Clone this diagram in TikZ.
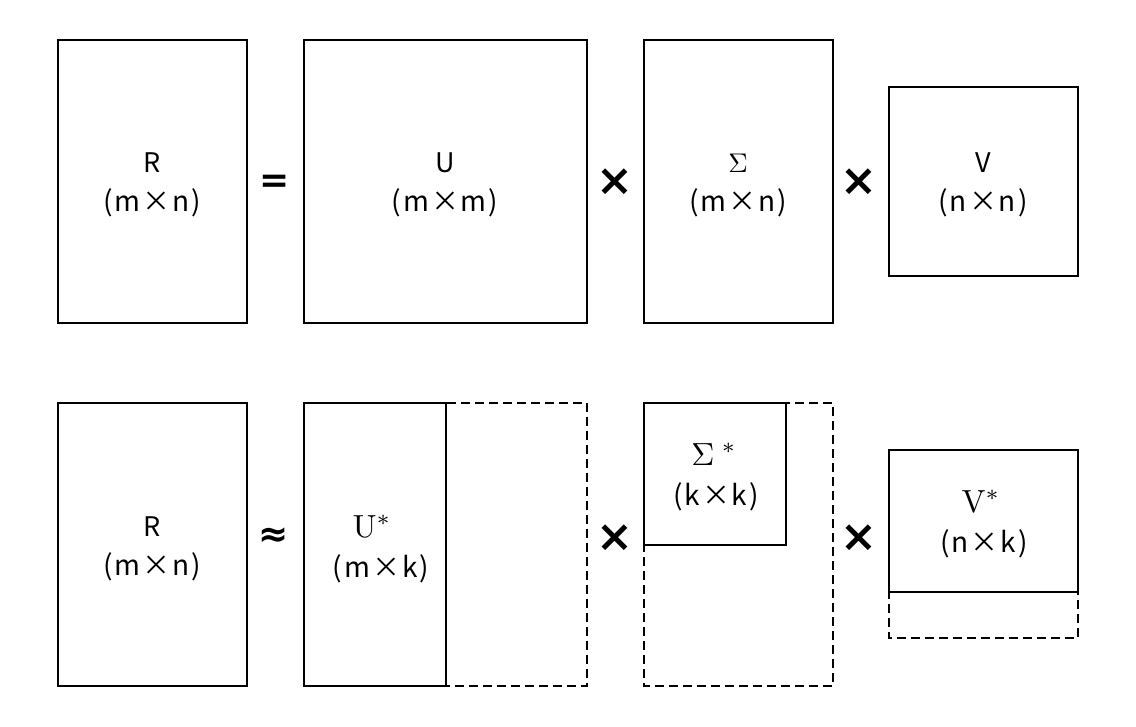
\documentclass[tikz,border=0pt]{standalone}
\usepackage{graphicx}
\usepackage{fontspec}
\newfontfamily\cjk[LetterSpace=7]{Noto Sans CJK SC}
\newfontfamily\opfont{DejaVu Sans}
\newcommand{\mbig}[1]{\scalebox{3.2}{$#1$}}
\begin{document}
\begin{tikzpicture}[x=1pt,y=-1pt,
  mat/.style={draw=black,line width=1.6pt,fill=none},
  dmat/.style={draw=black,line width=1.5pt,dash pattern=on 9pt off 5pt},
  nm/.style={anchor=base,inner sep=0pt,font=\cjk\fontsize{27}{27}\selectfont},
  mnm/.style={anchor=base,inner sep=0pt},
  dim/.style={anchor=base,inner sep=0pt,font=\cjk\fontsize{28}{28}\selectfont},
  op/.style={inner sep=0pt,font=\opfont\bfseries\fontsize{36}{36}\selectfont},
  opx/.style={inner sep=0pt,font=\opfont\bfseries\fontsize{44}{44}\selectfont}]
\useasboundingbox (0,0) rectangle (1136,727);
% top row
\draw[mat] (58,40) rectangle (247,323) coordinate (Rt);
\draw[mat] (304,40) rectangle (587,323) coordinate (Ut);
\draw[mat] (644,40) rectangle (833,323) coordinate (St);
\draw[mat] (889,87) rectangle (1078,276) coordinate (Vt);
\node[nm] (rtn) at (152,173) {R};
\node[dim] (rtd) at (152,212) {(m×n)};
\node[nm] (utn) at (445,173) {U};
\node[dim] (utd) at (445,212) {(m×m)};
\node[mnm] (stn) at (738,173) {\scalebox{2.7}{$\Sigma$}};
\node[dim] (std) at (738,212) {(m×n)};
\node[nm] (vtn) at (983,173) {V};
\node[dim] (vtd) at (983,212) {(n×n)};
\node[op] (eq) at (275,184) {=};
\node[opx] (x1) at (615,182) {×};
\node[opx] (x2) at (859,182) {×};
% bottom row
\draw[mat] (58,403) rectangle (247,686) coordinate (Rb);
\draw[dmat] (304,403) rectangle (587,686) coordinate (Ub);
\draw[mat] (304,403) rectangle (446,686) coordinate (Us);
\draw[dmat] (644,403) rectangle (833,686) coordinate (Sb);
\draw[mat] (644,403) rectangle (786,545) coordinate (Ss);
\draw[dmat] (889,450) rectangle (1078,638) coordinate (Vb);
\draw[mat] (889,450) rectangle (1078,592) coordinate (Vs);
\node[nm] (rbn) at (152,536) {R};
\node[dim] (rbd) at (152,575) {(m×n)};
\node[mnm] (ubn) at (372,537) {\mbig{\mathrm{U}^{*}}};
\node[dim] (ubd) at (381,577) {(m×k)};
\node[mnm] (sbn) at (714,465) {\mbig{\Sigma^{\;*}}};
\node[dim] (sbd) at (716,505) {(k×k)};
\node[mnm] (vbn) at (981,512) {\mbig{\mathrm{V}^{*}}};
\node[dim] (vbd) at (984,552) {(n×k)};
\node[op] (ap) at (274,537) {≈};
\node[opx] (x3) at (615,538) {×};
\node[opx] (x4) at (859,538) {×};
\end{tikzpicture}
\end{document}
